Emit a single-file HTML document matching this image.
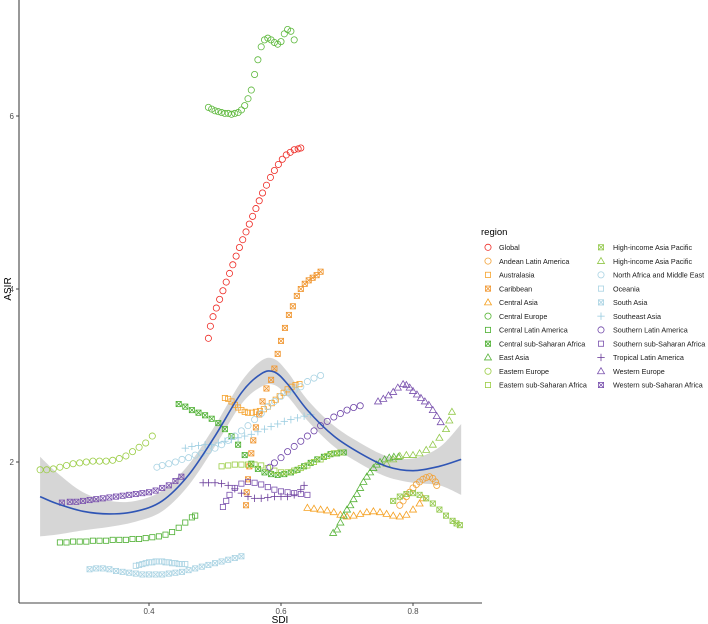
<!DOCTYPE html>
<html>
<head>
<meta charset="utf-8">
<style>
  html,body{margin:0;padding:0;background:#fff;}
  svg{display:block;font-family:"Liberation Sans",Arial,sans-serif;}
</style>
</head>
<body>
<svg id="chart" width="708" height="624" viewBox="0 0 708 624">
  <g id="band-layer"></g>
  <g id="points-layer"></g>
  <g id="line-layer"></g>
  <g id="axes">
    <line x1="19" y1="0" x2="19" y2="603" stroke="#444" stroke-width="1.1"/>
    <line x1="19" y1="603" x2="482" y2="603" stroke="#444" stroke-width="1.1"/>
  </g>
  <text x="280" y="623" font-size="10" text-anchor="middle" fill="#000">SDI</text>
  <text x="0" y="0" font-size="10" text-anchor="middle" fill="#000" transform="translate(11,289) rotate(-90)">ASIR</text>
  <g id="legend">
    <text x="481" y="235" font-size="9.5" fill="#000">region</text>
  </g>
</svg>
<script>
const xTicks = [0.4, 0.6, 0.8];
const xTickLabels = ["0.4", "0.6", "0.8"];
const yTicks = [2, 4, 6];
const yTickLabels = ["2", "4", "6"];

const regionNames = ["Global","Andean Latin America","Australasia","Caribbean","Central Asia","Central Europe","Central Latin America","Central sub-Saharan Africa","East Asia","Eastern Europe","Eastern sub-Saharan Africa","High-income Asia Pacific","High-income Asia Pacific","North Africa and Middle East","Oceania","South Asia","Southeast Asia","Southern Latin America","Southern sub-Saharan Africa","Tropical Latin America","Western Europe","Western sub-Saharan Africa"];

const globalX = [0.490,0.493,0.497,0.502,0.507,0.512,0.517,0.522,0.527,0.532,0.537,0.542,0.547,0.552,0.557,0.562,0.567,0.572,0.578,0.584,0.590,0.596,0.602,0.608,0.614,0.620,0.626,0.630];
const globalY = [3.43,3.57,3.68,3.78,3.88,3.98,4.08,4.18,4.28,4.38,4.48,4.57,4.66,4.75,4.84,4.93,5.02,5.11,5.20,5.29,5.37,5.44,5.50,5.55,5.58,5.61,5.62,5.63];
const andeanX = [0.780,0.785,0.790,0.795,0.800,0.805,0.810,0.815,0.820,0.825,0.830,0.834,0.836];
const andeanY = [1.50,1.55,1.60,1.65,1.70,1.74,1.77,1.80,1.82,1.83,1.81,1.77,1.73];
const australasiaX = [0.515,0.520,0.525,0.530,0.535,0.540,0.545,0.550,0.556,0.562,0.568,0.574,0.580,0.586,0.592,0.598,0.604,0.610,0.616,0.622,0.628];
const australasiaY = [2.74,2.73,2.70,2.66,2.63,2.60,2.58,2.57,2.57,2.58,2.59,2.61,2.64,2.68,2.72,2.76,2.80,2.84,2.87,2.89,2.90];
const caribbeanX = [0.547,0.548,0.550,0.552,0.555,0.558,0.562,0.567,0.572,0.578,0.585,0.590,0.595,0.600,0.606,0.612,0.618,0.624,0.630,0.636,0.642,0.648,0.654,0.660];
const caribbeanY = [1.50,1.65,1.80,1.95,2.10,2.25,2.40,2.55,2.70,2.85,2.95,3.08,3.25,3.40,3.55,3.70,3.80,3.92,4.00,4.06,4.10,4.13,4.16,4.20];
const centralAsiaX = [0.640,0.650,0.660,0.670,0.680,0.690,0.700,0.710,0.720,0.730,0.740,0.750,0.760,0.770,0.780,0.790,0.800,0.810,0.815];
const centralAsiaY = [1.47,1.46,1.45,1.44,1.42,1.39,1.37,1.38,1.40,1.42,1.43,1.42,1.40,1.38,1.37,1.39,1.45,1.52,1.58];
const centralEuropeX = [0.490,0.495,0.500,0.505,0.510,0.515,0.520,0.525,0.530,0.535,0.540,0.545,0.550,0.555,0.560,0.565,0.570,0.575,0.580,0.585,0.590,0.595,0.600,0.605,0.610,0.615,0.620];
const centralEuropeY = [6.10,6.08,6.06,6.05,6.04,6.03,6.03,6.02,6.03,6.04,6.07,6.12,6.20,6.30,6.48,6.65,6.80,6.88,6.90,6.88,6.85,6.83,6.86,6.95,7.00,6.98,6.88];
const centralLatamX = [0.265,0.275,0.285,0.295,0.305,0.315,0.325,0.335,0.345,0.355,0.365,0.375,0.385,0.395,0.405,0.415,0.425,0.435,0.445,0.455,0.465,0.470];
const centralLatamY = [1.07,1.07,1.08,1.08,1.08,1.09,1.09,1.09,1.10,1.10,1.10,1.11,1.11,1.12,1.13,1.14,1.16,1.19,1.24,1.30,1.36,1.38];
const centralSSAX = [0.445,0.455,0.465,0.475,0.485,0.495,0.505,0.515,0.525,0.535,0.545,0.555,0.565,0.575,0.585,0.595,0.605,0.615,0.625,0.635,0.645,0.655,0.665,0.675,0.685,0.695];
const centralSSAY = [2.67,2.64,2.60,2.57,2.54,2.50,2.45,2.38,2.30,2.20,2.08,1.98,1.92,1.88,1.86,1.85,1.86,1.88,1.91,1.95,1.99,2.03,2.06,2.09,2.10,2.11];
const eastAsiaX = [0.679,0.685,0.690,0.695,0.700,0.705,0.710,0.715,0.720,0.725,0.730,0.735,0.740,0.745,0.750,0.757,0.764,0.771,0.778];
const eastAsiaY = [1.18,1.22,1.30,1.38,1.45,1.50,1.57,1.63,1.70,1.77,1.83,1.88,1.93,1.97,2.00,2.03,2.05,2.06,2.06];
const easternEuropeX = [0.235,0.245,0.255,0.265,0.275,0.285,0.295,0.305,0.315,0.325,0.335,0.345,0.355,0.365,0.375,0.385,0.395,0.405];
const easternEuropeY = [1.91,1.91,1.92,1.94,1.96,1.98,1.99,2.00,2.01,2.01,2.01,2.02,2.04,2.07,2.12,2.17,2.22,2.30];
const easternSSAX = [0.510,0.520,0.530,0.540,0.550,0.560,0.570,0.580,0.590,0.600,0.610,0.620,0.630,0.640,0.650,0.660,0.670,0.680,0.690];
const easternSSAY = [1.95,1.96,1.97,1.97,1.97,1.97,1.96,1.93,1.90,1.88,1.88,1.90,1.93,1.96,2.00,2.03,2.07,2.10,2.11];
const hiap1X = [0.770,0.780,0.790,0.800,0.810,0.820,0.830,0.840,0.850,0.860,0.866,0.871];
const hiap1Y = [1.55,1.60,1.63,1.64,1.62,1.58,1.52,1.45,1.38,1.32,1.29,1.27];
const hiap2X = [0.760,0.770,0.780,0.790,0.800,0.810,0.820,0.830,0.840,0.850,0.855,0.859];
const hiap2Y = [1.98,2.03,2.07,2.08,2.08,2.10,2.14,2.20,2.28,2.38,2.48,2.58];
const nameX = [0.412,0.420,0.430,0.440,0.450,0.460,0.470,0.480,0.490,0.500,0.510,0.520,0.530,0.540,0.550,0.560,0.570,0.580,0.590,0.600,0.610,0.620,0.630,0.640,0.650,0.660];
const nameY = [1.94,1.96,1.98,2.00,2.03,2.05,2.08,2.10,2.13,2.16,2.20,2.25,2.30,2.36,2.42,2.49,2.56,2.64,2.70,2.76,2.80,2.83,2.87,2.93,2.97,3.00];
const oceaniaX = [0.380,0.385,0.390,0.395,0.400,0.405,0.410,0.415,0.420,0.425,0.430,0.435,0.440,0.445,0.450,0.455];
const oceaniaY = [0.80,0.81,0.82,0.83,0.84,0.84,0.85,0.85,0.85,0.84,0.84,0.83,0.83,0.82,0.82,0.82];
const southAsiaX = [0.310,0.320,0.330,0.340,0.350,0.360,0.370,0.380,0.390,0.400,0.410,0.420,0.430,0.440,0.450,0.460,0.470,0.480,0.490,0.500,0.510,0.520,0.530,0.540];
const southAsiaY = [0.76,0.77,0.77,0.76,0.74,0.73,0.72,0.71,0.70,0.70,0.70,0.70,0.71,0.72,0.73,0.75,0.77,0.79,0.81,0.83,0.85,0.87,0.89,0.91];
const seAsiaX = [0.455,0.465,0.475,0.485,0.495,0.505,0.515,0.525,0.535,0.545,0.555,0.565,0.575,0.585,0.595,0.605,0.615,0.625,0.635,0.645];
const seAsiaY = [2.16,2.18,2.19,2.20,2.20,2.22,2.24,2.26,2.28,2.30,2.32,2.35,2.38,2.41,2.44,2.47,2.49,2.51,2.53,2.55];
const southernLatamX = [0.583,0.590,0.600,0.610,0.620,0.630,0.640,0.650,0.660,0.670,0.680,0.690,0.700,0.710,0.720];
const southernLatamY = [1.94,1.99,2.05,2.12,2.18,2.24,2.30,2.36,2.42,2.47,2.52,2.56,2.60,2.63,2.65];
const southernSSAX = [0.512,0.517,0.522,0.530,0.540,0.550,0.560,0.570,0.580,0.590,0.600,0.610,0.620,0.630,0.640];
const southernSSAY = [1.48,1.55,1.62,1.70,1.75,1.77,1.76,1.74,1.71,1.68,1.66,1.65,1.64,1.63,1.62];
const tropicalLatamX = [0.482,0.490,0.500,0.510,0.520,0.530,0.540,0.550,0.560,0.570,0.580,0.590,0.600,0.610,0.620,0.630,0.635];
const tropicalLatamY = [1.76,1.76,1.76,1.75,1.73,1.69,1.64,1.60,1.58,1.58,1.59,1.60,1.60,1.60,1.62,1.68,1.73];
const westernEuropeX = [0.747,0.755,0.763,0.770,0.777,0.785,0.790,0.795,0.800,0.806,0.812,0.818,0.824,0.830,0.836,0.842];
const westernEuropeY = [2.70,2.73,2.77,2.81,2.86,2.90,2.89,2.86,2.82,2.78,2.74,2.70,2.66,2.60,2.53,2.46];
const westernSSAX = [0.268,0.280,0.290,0.300,0.310,0.320,0.330,0.340,0.350,0.360,0.370,0.380,0.390,0.400,0.410,0.420,0.430,0.440,0.449];
const westernSSAY = [1.53,1.54,1.54,1.55,1.56,1.57,1.58,1.59,1.60,1.61,1.62,1.63,1.64,1.65,1.67,1.70,1.73,1.78,1.83];

const smoothX = [0.235,0.26,0.30,0.34,0.38,0.42,0.46,0.50,0.54,0.57,0.59,0.61,0.64,0.68,0.72,0.76,0.80,0.84,0.873];
const smoothY = [1.60,1.52,1.43,1.40,1.43,1.55,1.85,2.30,2.80,3.02,3.04,2.90,2.60,2.30,2.10,1.95,1.90,1.95,2.03];
const smoothSE = [0.46,0.36,0.22,0.15,0.12,0.12,0.12,0.12,0.13,0.15,0.15,0.14,0.12,0.12,0.12,0.12,0.14,0.22,0.41];

const NS = "http://www.w3.org/2000/svg";
function sx(v){ return 149 + (v - 0.4) * 660; }
function sy(v){ return 462 - (v - 2) * 86.5; }
function mk(tag, attrs){ const e = document.createElementNS(NS, tag); for (const k in attrs) e.setAttribute(k, attrs[k]); return e; }

function drawMarker(parent, shape, cx, cy, color){
  const g = mk("g", {fill:"none", stroke:color, "stroke-width":"0.8"});
  const r = 2.9;
  if (shape === "circle") g.appendChild(mk("circle", {cx:cx, cy:cy, r:r+0.2}));
  else if (shape === "square" || shape === "squareX") {
    g.appendChild(mk("rect", {x:cx-r+0.3, y:cy-r+0.3, width:2*r-0.6, height:2*r-0.6}));
    if (shape === "squareX") {
      g.appendChild(mk("line", {x1:cx-r+0.3, y1:cy-r+0.3, x2:cx+r-0.3, y2:cy+r-0.3}));
      g.appendChild(mk("line", {x1:cx+r-0.3, y1:cy-r+0.3, x2:cx-r+0.3, y2:cy+r-0.3}));
    }
  } else if (shape === "triangle") {
    g.appendChild(mk("polygon", {points:(cx)+","+(cy-r-0.6)+" "+(cx+r+0.6)+","+(cy+r-0.4)+" "+(cx-r-0.6)+","+(cy+r-0.4)}));
  } else if (shape === "plus") {
    g.appendChild(mk("line", {x1:cx-r-0.8, y1:cy, x2:cx+r+0.8, y2:cy}));
    g.appendChild(mk("line", {x1:cx, y1:cy-r-0.8, x2:cx, y2:cy+r+0.8}));
  }
  parent.appendChild(g);
  return g;
}

const seriesList = [
  {xs:globalX, ys:globalY, shape:"circle", color:"#EE2A24"},
  {xs:andeanX, ys:andeanY, shape:"circle", color:"#F2A33A"},
  {xs:australasiaX, ys:australasiaY, shape:"square", color:"#F5A32E"},
  {xs:caribbeanX, ys:caribbeanY, shape:"squareX", color:"#F0952E"},
  {xs:centralAsiaX, ys:centralAsiaY, shape:"triangle", color:"#F5A020"},
  {xs:centralEuropeX, ys:centralEuropeY, shape:"circle", color:"#5DB83C"},
  {xs:centralLatamX, ys:centralLatamY, shape:"square", color:"#4CAF30"},
  {xs:centralSSAX, ys:centralSSAY, shape:"squareX", color:"#4CAF30"},
  {xs:eastAsiaX, ys:eastAsiaY, shape:"triangle", color:"#58B33A"},
  {xs:easternEuropeX, ys:easternEuropeY, shape:"circle", color:"#9BCD45"},
  {xs:easternSSAX, ys:easternSSAY, shape:"square", color:"#9BCD45"},
  {xs:hiap1X, ys:hiap1Y, shape:"squareX", color:"#92C84A"},
  {xs:hiap2X, ys:hiap2Y, shape:"triangle", color:"#92C84A"},
  {xs:nameX, ys:nameY, shape:"circle", color:"#A9D3E3"},
  {xs:oceaniaX, ys:oceaniaY, shape:"square", color:"#A9D3E3"},
  {xs:southAsiaX, ys:southAsiaY, shape:"squareX", color:"#A9D3E3"},
  {xs:seAsiaX, ys:seAsiaY, shape:"plus", color:"#9ACCE0"},
  {xs:southernLatamX, ys:southernLatamY, shape:"circle", color:"#6E45A8"},
  {xs:southernSSAX, ys:southernSSAY, shape:"square", color:"#7A52AE"},
  {xs:tropicalLatamX, ys:tropicalLatamY, shape:"plus", color:"#6A3D9A"},
  {xs:westernEuropeX, ys:westernEuropeY, shape:"triangle", color:"#7A52AE"},
  {xs:westernSSAX, ys:westernSSAY, shape:"squareX", color:"#7A52AE"}
];

function crPath(pts){
  let d = "M" + pts[0][0] + "," + pts[0][1];
  for (let i = 0; i < pts.length - 1; i++) {
    const p0 = pts[Math.max(0, i-1)], p1 = pts[i], p2 = pts[i+1], p3 = pts[Math.min(pts.length-1, i+2)];
    const c1x = p1[0] + (p2[0]-p0[0])/6, c1y = p1[1] + (p2[1]-p0[1])/6;
    const c2x = p2[0] - (p3[0]-p1[0])/6, c2y = p2[1] - (p3[1]-p1[1])/6;
    d += " C" + c1x + "," + c1y + " " + c2x + "," + c2y + " " + p2[0] + "," + p2[1];
  }
  return d;
}

// Confidence band
(function(){
  const band = document.getElementById("band-layer");
  const up = [], lo = [];
  for (let i = 0; i < smoothX.length; i++) {
    up.push([sx(smoothX[i]), sy(smoothY[i] + smoothSE[i])]);
    lo.push([sx(smoothX[i]), sy(smoothY[i] - smoothSE[i])]);
  }
  lo.reverse();
  const d = crPath(up) + " L" + lo[0][0] + "," + lo[0][1] + crPath(lo).replace(/^M[^C]*/, " ") + " Z";
  const p = mk("path", {d: d, fill:"#999", "fill-opacity":"0.4", stroke:"none"});
  
  
  band.appendChild(p);
})();

// Points
(function(){
  const layer = document.getElementById("points-layer");
  seriesList.forEach(function(s, si){
    const g = mk("g", {});
    
    
    for (let i = 0; i < s.xs.length; i++) {
      const m = drawMarker(g, s.shape, sx(s.xs[i]), sy(s.ys[i]), s.color);
      
      
    }
    layer.appendChild(g);
  });
})();

// Smooth line
(function(){
  const layer = document.getElementById("line-layer");
  const pts = [];
  for (let i = 0; i < smoothX.length; i++) pts.push([sx(smoothX[i]), sy(smoothY[i])]);
  const p = mk("path", {d:crPath(pts), fill:"none", stroke:"#2F55B5", "stroke-width":"1.6"});
  
  
  layer.appendChild(p);
})();

// Axes ticks
(function(){
  const axes = document.getElementById("axes");
  xTicks.forEach(function(v, i){
    const t = mk("line", {x1:sx(v), y1:603, x2:sx(v), y2:606, stroke:"#444", "stroke-width":"1"});
    
    
    axes.appendChild(t);
    const l = mk("text", {x:sx(v), y:614, "font-size":"8", "text-anchor":"middle", fill:"#4D4D4D"});
    l.textContent = xTickLabels[i];
    
    
    axes.appendChild(l);
  });
  yTicks.forEach(function(v, i){
    const t = mk("line", {x1:16, y1:sy(v), x2:19, y2:sy(v), stroke:"#444", "stroke-width":"1"});
    
    
    axes.appendChild(t);
    const l = mk("text", {x:14, y:sy(v) + 3, "font-size":"8", "text-anchor":"end", fill:"#4D4D4D"});
    l.textContent = yTickLabels[i];
    
    
    axes.appendChild(l);
  });
})();

// Legend
(function(){
  const legend = document.getElementById("legend");
  seriesList.forEach(function(s, i){
    const col = i < 11 ? 0 : 1;
    const row = i % 11;
    const symX = col === 0 ? 488 : 601;
    const txtX = col === 0 ? 499 : 613;
    const y = 247.3 + row * 13.77;
    const g = mk("g", {});
    
    
    drawMarker(g, s.shape, symX, y, s.color);
    const t = mk("text", {x:txtX, y:y + 2.7, "font-size":"7.2", fill:"#1a1a1a"});
    t.textContent = regionNames[i];
    g.appendChild(t);
    legend.appendChild(g);
  });
})();
</script>
</body>
</html>
